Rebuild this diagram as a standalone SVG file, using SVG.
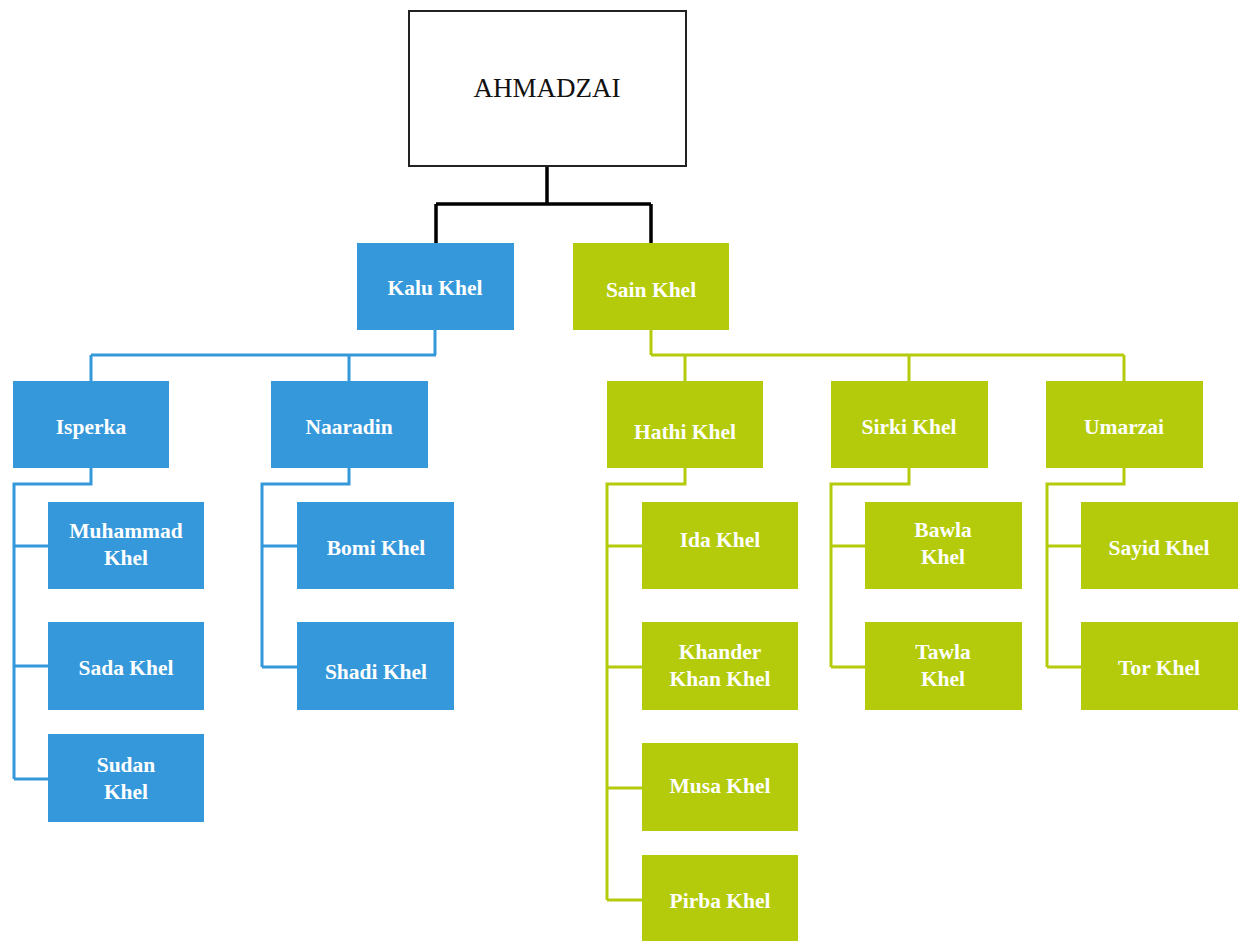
<svg xmlns="http://www.w3.org/2000/svg" width="1238" height="941" viewBox="0 0 1238 941">
<style>
.b{fill:#3598db}
.g{fill:#b3cb0a}
.t{font-family:"Liberation Serif","Times New Roman",serif;font-size:21.5px;font-weight:bold;fill:#ffffff;text-anchor:middle}
.lb{fill:none;stroke:#3598db;stroke-width:3}
.lg{fill:none;stroke:#b3cb0a;stroke-width:3}
.lk{fill:none;stroke:#000;stroke-width:3.5}
</style>
<rect width="1238" height="941" fill="#ffffff"/>
<g id="connectors">
<path class="lk" d="M547 166V204M436 204H651M436 204V243M651 204V243"/>
<path class="lb" d="M435 330V355M91 355H436M91 355V381M349 355V381"/>
<path class="lb" d="M91 468V484H14V779M14 546H48M14 666H48M14 779H48"/>
<path class="lb" d="M349 468V484H262V667M262 546H297M262 667H297"/>
<path class="lg" d="M651 330V355M651 355H1124M685 355V381M909 355V381M1124 355V381"/>
<path class="lg" d="M685 468V484H607V900M607 546H642M607 667H642M607 788H642M607 900H642"/>
<path class="lg" d="M909 468V484H831V667M831 546H865M831 667H865"/>
<path class="lg" d="M1124 468V484H1047V667M1047 546H1081M1047 667H1081"/>
</g>
<g id="ahmadzai"><rect x="409" y="11" width="277" height="155" fill="#fff" stroke="#222" stroke-width="2"/><text x="547" y="97" font-family="Liberation Serif,Times New Roman,serif" font-size="27" text-anchor="middle" fill="#111">AHMADZAI</text></g>
<g id="kalu"><rect class="b" x="357" y="243" width="157" height="87"/><text class="t" x="435" y="295">Kalu Khel</text></g>
<g id="sain"><rect class="g" x="573" y="243" width="156" height="87"/><text class="t" x="651" y="297">Sain Khel</text></g>
<g id="isperka"><rect class="b" x="13" y="381" width="156" height="87"/><text class="t" x="91" y="434">Isperka</text></g>
<g id="naaradin"><rect class="b" x="271" y="381" width="157" height="87"/><text class="t" x="349" y="434">Naaradin</text></g>
<g id="hathi"><rect class="g" x="607" y="381" width="156" height="87"/><text class="t" x="685" y="439">Hathi Khel</text></g>
<g id="sirki"><rect class="g" x="831" y="381" width="157" height="87"/><text class="t" x="909" y="434">Sirki Khel</text></g>
<g id="umarzai"><rect class="g" x="1046" y="381" width="157" height="87"/><text class="t" x="1124" y="434">Umarzai</text></g>
<g id="muhammad"><rect class="b" x="48" y="502" width="156" height="87"/><text class="t" x="126" y="538">Muhammad</text><text class="t" x="126" y="565">Khel</text></g>
<g id="sada"><rect class="b" x="48" y="622" width="156" height="88"/><text class="t" x="126" y="675">Sada Khel</text></g>
<g id="sudan"><rect class="b" x="48" y="734" width="156" height="88"/><text class="t" x="126" y="772">Sudan</text><text class="t" x="126" y="799">Khel</text></g>
<g id="bomi"><rect class="b" x="297" y="502" width="157" height="87"/><text class="t" x="376" y="555">Bomi Khel</text></g>
<g id="shadi"><rect class="b" x="297" y="622" width="157" height="88"/><text class="t" x="376" y="679">Shadi Khel</text></g>
<g id="ida"><rect class="g" x="642" y="502" width="156" height="87"/><text class="t" x="720" y="547">Ida Khel</text></g>
<g id="khander"><rect class="g" x="642" y="622" width="156" height="88"/><text class="t" x="720" y="659">Khander</text><text class="t" x="720" y="686">Khan Khel</text></g>
<g id="musa"><rect class="g" x="642" y="743" width="156" height="88"/><text class="t" x="720" y="793">Musa Khel</text></g>
<g id="pirba"><rect class="g" x="642" y="855" width="156" height="87"/><text class="t" x="720" y="908">Pirba Khel</text></g>
<g id="bawla"><rect class="g" x="865" y="502" width="157" height="87"/><text class="t" x="943" y="537">Bawla</text><text class="t" x="943" y="564">Khel</text></g>
<g id="tawla"><rect class="g" x="865" y="622" width="157" height="88"/><text class="t" x="943" y="659">Tawla</text><text class="t" x="943" y="686">Khel</text></g>
<g id="sayid"><rect class="g" x="1081" y="502" width="157" height="87"/><text class="t" x="1159" y="555">Sayid Khel</text></g>
<g id="tor"><rect class="g" x="1081" y="622" width="157" height="88"/><text class="t" x="1159" y="675">Tor Khel</text></g>
</svg>
